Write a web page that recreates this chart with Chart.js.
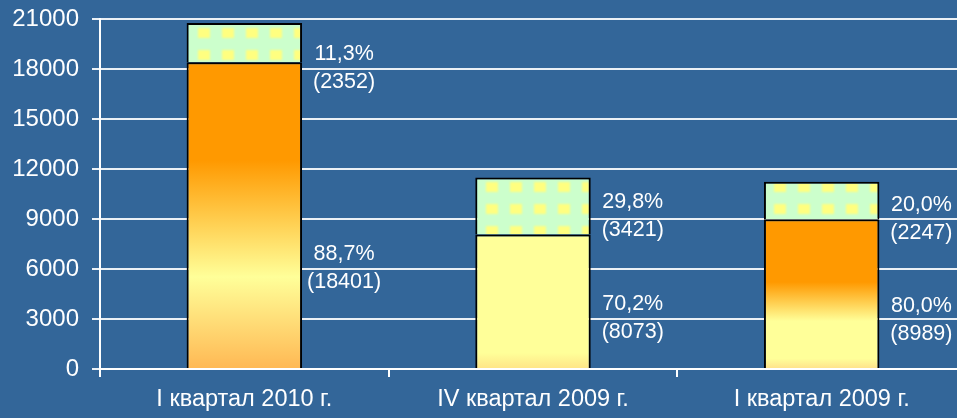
<!DOCTYPE html>
<html>
<head>
<meta charset="utf-8">
<script src="https://cdn.jsdelivr.net/npm/chart.js@4/dist/chart.umd.min.js"></script>
<style>
  html, body { margin: 0; padding: 0; overflow: hidden; background: #336699; }
  #wrap { width: 966px; height: 418px; }
</style>
</head>
<body>
<div id="wrap"><canvas id="quarterChart"></canvas></div>
<script>
// data
var categories = ['I квартал 2010 г.', 'IV квартал 2009 г.', 'I квартал 2009 г.'];
var baseValues = [18401, 8073, 8989];
var topValues = [2352, 3421, 2247];
var yTicks = [0, 3000, 6000, 9000, 12000, 15000, 18000, 21000];

// where the text pairs sit, in axis units
var labelAnchorTop = [18030, 9150, 8970];
var labelAnchorBase = [6060, 3030, 2910];

var font = "'Liberation Sans', Arial, sans-serif";

// gradient stops for the lower part of each bar
var baseStops = [
    [[0, '#FF9900'], [0.32, '#FF9900'], [0.7, '#FFFF99'], [1, '#FFB853']],
    [[0, '#FFFF99'], [0.88, '#FFFF99'], [1, '#FFE486']],
    [[0, '#FF9900'], [0.42, '#FF9900'], [0.68, '#FFFF99'], [0.93, '#FFFF99'], [1, '#FFE08A']]
];

function makePattern() {
    var c = document.createElement('canvas');
    c.width = 24; c.height = 22;
    var g = c.getContext('2d');
    g.fillStyle = '#CCFFCC';
    g.fillRect(0, 0, 24, 22);
    g.filter = 'blur(1.2px)';
    g.fillStyle = '#FFFF80';
    g.fillRect(6, 6, 12, 10);
    return g.createPattern(c, 'repeat');
}
var dotPattern = null;

function baseFill(ctx) {
    var chart = ctx.chart;
    var i = ctx.dataIndex;
    if (!chart.chartArea || i === undefined) return '#FF9900';
    var y = chart.scales.y;
    var top = y.getPixelForValue(baseValues[i]);
    var bottom = y.getPixelForValue(0);
    var grad = chart.ctx.createLinearGradient(0, top, 0, bottom);
    baseStops[i].forEach(function (s) { grad.addColorStop(s[0], s[1]); });
    return grad;
}

function topFill(ctx) {
    if (!dotPattern) dotPattern = makePattern();
    return dotPattern;
}

function fmtPct(v) {
    return v.toFixed(1).replace('.', ',') + '%';
}

var sideLabels = {
    id: 'sideLabels',
    afterDatasetsDraw: function (chart) {
        var ctx = chart.ctx;
        var y = chart.scales.y;
        var bars = chart.getDatasetMeta(0).data;
        ctx.save();
        ctx.fillStyle = '#FFFFFF';
        ctx.font = '21.5px ' + font;
        ctx.textAlign = 'center';
        ctx.textBaseline = 'middle';
        bars.forEach(function (bar, i) {
            var total = baseValues[i] + topValues[i];
            var cx = bar.x + bar.width / 2 + 42;
            var yt = y.getPixelForValue(labelAnchorTop[i]);
            ctx.fillText(fmtPct(topValues[i] / total * 100), cx, yt - 14);
            ctx.fillText('(' + topValues[i] + ')', cx, yt + 14);
            var yb = y.getPixelForValue(labelAnchorBase[i]);
            ctx.fillText(fmtPct(baseValues[i] / total * 100), cx, yb - 14);
            ctx.fillText('(' + baseValues[i] + ')', cx, yb + 14);
        });
        ctx.restore();
    }
};

var data = {
    labels: categories,
    datasets: [
        {
            data: baseValues,
            backgroundColor: baseFill,
            borderColor: '#000000',
            borderWidth: 2,
            barPercentage: 0.4,
            categoryPercentage: 1.0
        },
        {
            data: topValues,
            backgroundColor: topFill,
            borderColor: '#000000',
            borderWidth: 2,
            barPercentage: 0.4,
            categoryPercentage: 1.0
        }
    ]
};

var options = {
    responsive: true,
    maintainAspectRatio: false,
    animation: false,
    layout: { padding: { top: 19, right: 0, left: 0, bottom: 0 } },
    plugins: {
        legend: { display: false },
        tooltip: { enabled: false }
    },
    scales: {
        x: {
            stacked: true,
            afterFit: function (s) { s.height = 49; s.paddingLeft = 0; s.paddingRight = 0; },
            grid: {
                drawOnChartArea: false,
                drawTicks: true,
                tickLength: 8,
                color: '#FFFFFF',
                lineWidth: 2
            },
            border: { display: true, color: '#FFFFFF', width: 2 },
            ticks: {
                color: '#FFFFFF',
                padding: 8,
                font: { family: font, size: 23.5 }
            }
        },
        y: {
            stacked: true,
            min: 0,
            max: 21000,
            afterFit: function (s) { s.width = 100; s.paddingTop = 0; s.paddingBottom = 0; },
            afterBuildTicks: function (s) {
                s.ticks = yTicks.map(function (v) { return { value: v }; });
            },
            grid: {
                color: 'rgba(255,255,255,0.9)',
                lineWidth: 2,
                drawTicks: true,
                tickLength: 8
            },
            border: { display: true, color: '#FFFFFF', width: 2 },
            ticks: {
                color: '#FFFFFF',
                padding: 13,
                font: { family: font, size: 24 },
                callback: function (v) { return String(v); }
            }
        }
    }
};

var chart = new Chart(document.getElementById('quarterChart'), {
    type: 'bar',
    data: data,
    options: options,
    plugins: [sideLabels]
});
</script>
</body>
</html>
